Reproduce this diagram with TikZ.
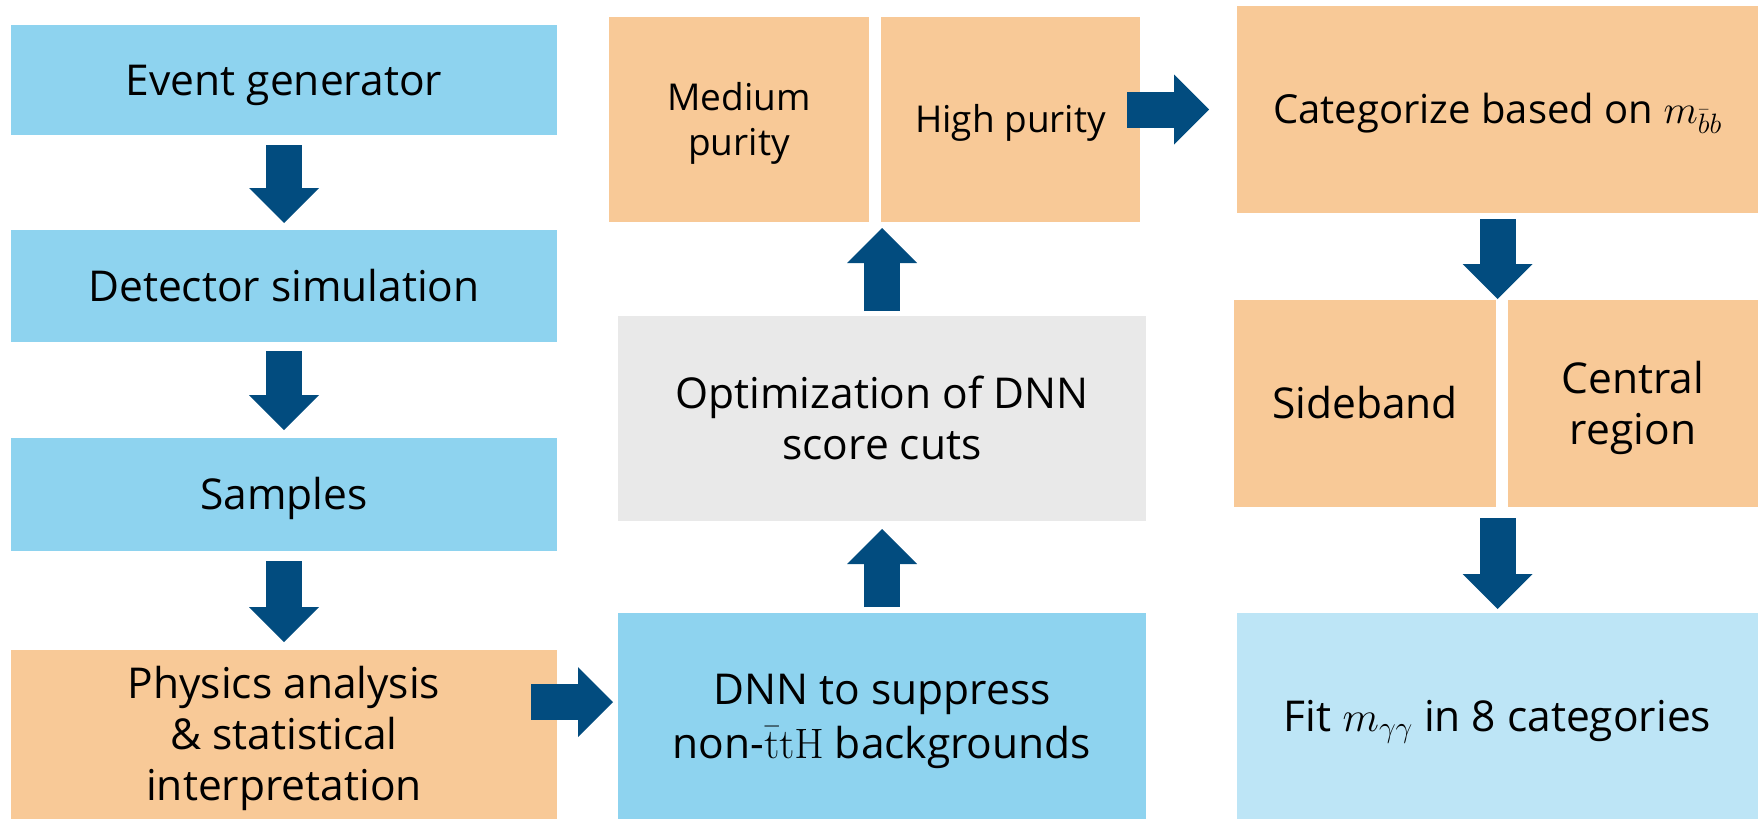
\RequirePackage{fix-cm}
\documentclass[tikz,border=0pt]{standalone}
\usepackage[no-math]{fontspec}
\setmainfont{Open Sans}
\usetikzlibrary{arrows.meta,calc}

\definecolor{stageblue}{HTML}{8ED3EF}
\definecolor{stageorange}{HTML}{F8C997}
\definecolor{stagegrey}{HTML}{E9E9E9}
\definecolor{stagelight}{HTML}{BDE5F6}
\definecolor{flowblue}{HTML}{024C7F}

% text height = cap height of the first line + the extra lines below it,
% so that the block of capitals sits in the middle of each box
\tikzset{
  stage/.style={inner sep=0pt, outer sep=0pt, align=center, anchor=north west,
    font=\fontsize{42.5}{51}\selectfont, text height=30.3pt, text depth=0pt},
  small stage/.style={stage, font=\fontsize{37}{45}\selectfont, text height=26.4pt},
  mid stage/.style={stage, font=\fontsize{40}{48}\selectfont, text height=28.6pt},
  flow/.style={draw=flowblue, line width=36pt,
    -{Triangle[length=35pt,width=70pt,line width=0pt]}},
}

\begin{document}
\begin{tikzpicture}[x=1pt,y=-1pt]
\useasboundingbox (0,0) rectangle (1758,819);

% left column: simulation chain
\node[stage, fill=stageblue, minimum width=546pt, minimum height=110pt] (gen) at (11,25) {Event generator};
\node[stage, fill=stageblue, minimum width=546pt, minimum height=112pt] (det) at (11,230) {Detector simulation};
\node[stage, fill=stageblue, minimum width=546pt, minimum height=113pt] (smp) at (11,438) {Samples};
\node[stage, fill=stageorange, minimum width=546pt, minimum height=169pt,
  text height=132.3pt] (phys) at (11,650) {Physics analysis\\\& statistical\\interpretation};

% middle column: DNN selection
\node[stage, fill=stageblue, minimum width=528pt, minimum height=206pt,
  font=\fontsize{42.5}{54}\selectfont, text height=84.3pt] (dnn) at (618,613) {DNN to suppress\\non-$\mathrm{\bar{t}tH}$ backgrounds};
\node[stage, fill=stagegrey, minimum width=528pt, minimum height=205pt,
  text height=81.3pt] (opt) at (618,316) {Optimization of DNN\\score cuts};
\node[small stage, fill=stageorange, minimum width=260pt, minimum height=205pt,
  text height=71.4pt] (med) at (609,17) {Medium\\purity};
\node[small stage, fill=stageorange, minimum width=259pt, minimum height=205pt] (high) at (881,17) {High purity};

% right column: categorisation and fit
\node[mid stage, fill=stageorange, minimum width=521pt, minimum height=207pt] (cat) at (1237,6) {Categorize based on $m_{\bar{b}b}$};
\node[stage, fill=stageorange, minimum width=262pt, minimum height=207pt] (side) at (1234,300) {Sideband};
\node[stage, fill=stageorange, minimum width=250pt, minimum height=207pt,
  text height=81.3pt] (cent) at (1508,300) {Central\\region};
\node[stage, fill=stagelight, minimum width=521pt, minimum height=206pt] (fit) at (1237,613) {Fit $m_{\gamma\gamma}$ in 8 categories};

% coordinates for arrow ends that fall between boxes
\coordinate (purity) at (opt.north |- med.south);
\coordinate (split) at (cat.south |- side.north);
\coordinate (physout) at (phys.east |- 0,702);
\coordinate (dnnin) at (dnn.west |- 0,702);
\coordinate (highout) at (high.east |- cat.west);

% flow arrows
\draw[flow, shorten <=10pt, shorten >=7pt] (gen.south) -- (det.north);
\draw[flow, shorten <=9pt, shorten >=8pt] (det.south) -- (smp.north);
\draw[flow, shorten <=10pt, shorten >=8pt] (smp.south) -- (phys.north);
\draw[flow, shorten <=-26pt, shorten >=5pt] (physout) -- (dnnin);
\draw[flow, shorten <=6pt, shorten >=8pt] (dnn.north) -- (opt.south);
\draw[flow, shorten <=5pt, shorten >=6pt] (opt.north) -- (purity);
\draw[flow, shorten <=-13pt, shorten >=28pt] (highout) -- (cat.west);
\draw[flow, shorten <=6pt, shorten >=1pt] (cat.south) -- (split);
\draw[flow, shorten <=11pt, shorten >=4pt] (side.south -| cat.south) -- (fit.north);
\end{tikzpicture}
\end{document}
